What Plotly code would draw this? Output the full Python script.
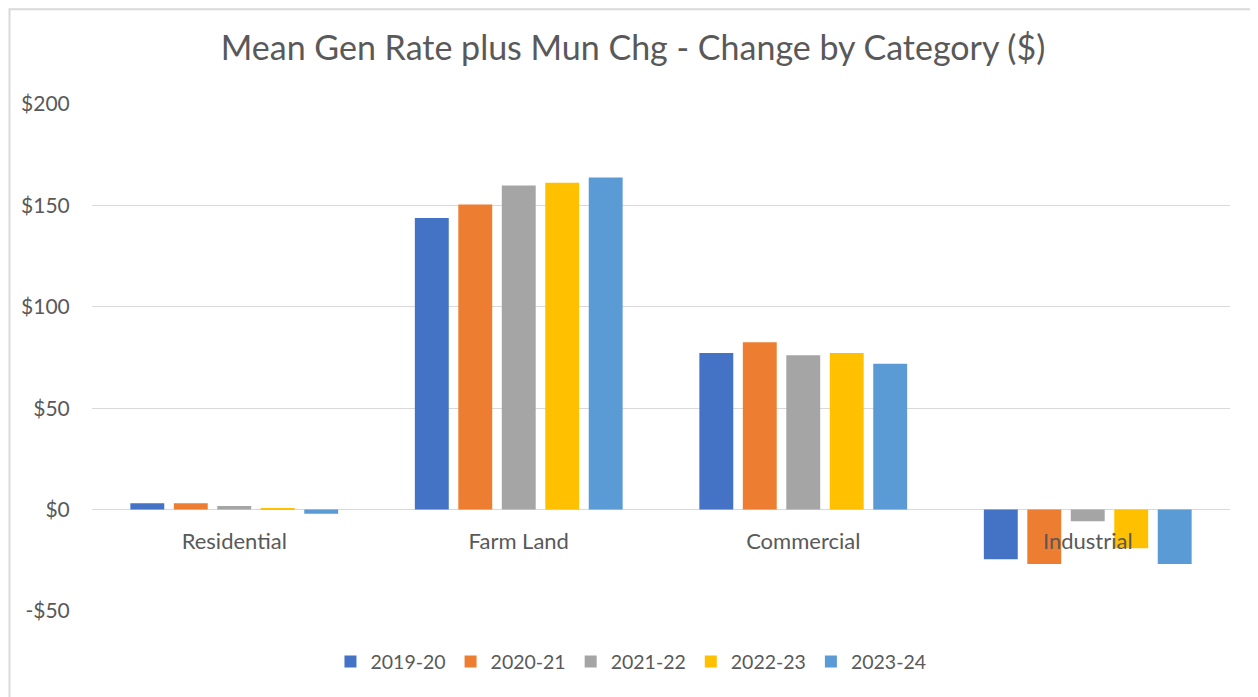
import plotly.graph_objects as go

categories = ["Residential", "Farm Land", "Commercial", "Industrial"]
series_names = ["2019-20", "2020-21", "2021-22", "2022-23", "2023-24"]
v_2019_20 = [3.1, 143.8, 77.2, -24.5]
v_2020_21 = [3.1, 150.5, 82.5, -26.8]
v_2021_22 = [1.8, 159.8, 76.1, -5.7]
v_2022_23 = [0.5, 161.2, 77.2, -19.0]
v_2023_24 = [-2.0, 163.8, 71.9, -26.8]
series_values = [v_2019_20, v_2020_21, v_2021_22, v_2022_23, v_2023_24]
colors = ["#4472C4", "#ED7D31", "#A5A5A5", "#FFC000", "#5B9BD5"]
y_ticks = [-50, 0, 50, 100, 150, 200]
y_tick_labels = ["-$50", "$0", "$50", "$100", "$150", "$200"]

FONT = "Lato, 'Open Sans', sans-serif"
GREY = "#595959"

fig = go.Figure()
for name, vals, col in zip(series_names, series_values, colors):
    fig.add_trace(go.Bar(x=categories, y=vals, name=name, marker=dict(color=col, line=dict(width=0))))

W, H = 1250, 689
fig.update_layout(
    width=W, height=H,
    paper_bgcolor="white", plot_bgcolor="white",
    margin=dict(l=84, r=28, t=96, b=86),
    barmode="group", bargap=0.236, bargroupgap=0.22,
    title=dict(text="Mean Gen Rate plus Mun Chg - Change by Category ($)",
               x=0.5, xanchor="center", y=1 - 40 / H, yanchor="middle",
               xref="container",
               font=dict(family=FONT, size=34, color=GREY)),
    font=dict(family=FONT, size=20, color=GREY),
    showlegend=True,
    legend=dict(orientation="h", x=0.4736, xanchor="center", y=-0.1, yanchor="middle",
                font=dict(family=FONT, size=19.5, color=GREY), traceorder="normal",
                itemwidth=30),
    yaxis=dict(range=[-50, 200], tickvals=y_ticks, ticktext=y_tick_labels,
               showgrid=True, gridcolor="#D9D9D9", gridwidth=1.3,
               zeroline=True, zerolinecolor="#D9D9D9", zerolinewidth=1.3,
               ticks="outside", ticklen=17, tickcolor="rgba(0,0,0,0)",
               tickfont=dict(family=FONT, size=21, color=GREY),
               showline=False, domain=[0, 1]),
    xaxis=dict(anchor="free", position=0.2, showline=False, showgrid=False,
               ticks="outside", ticklen=12, tickcolor="rgba(0,0,0,0)",
               tickfont=dict(family=FONT, size=22, color=GREY)),
    shapes=[
        dict(type="path", xref="paper", yref="paper",
             path="M -0.0725 -0.17 L -0.0725 1.187 L 1.03 1.187",
             line=dict(color="#D9D9D9", width=2), layer="below"),
    ],
)

fig.write_html("out.html")
